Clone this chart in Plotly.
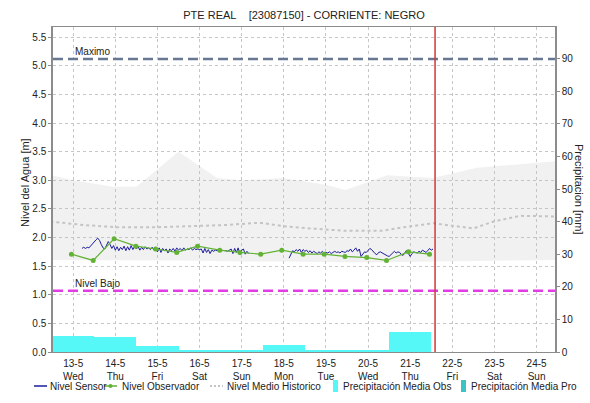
import pandas as pd
import plotly.graph_objects as go

# ---------------------------------------------------------------- data
title_text = "PTE REAL\u00a0\u00a0\u00a0 [23087150] - CORRIENTE: NEGRO"

tick_days = ["2020-05-13", "2020-05-14", "2020-05-15", "2020-05-16", "2020-05-17", "2020-05-18",
             "2020-05-19", "2020-05-20", "2020-05-21", "2020-05-22", "2020-05-23", "2020-05-24"]
tick_labels = ["13-5<br>Wed", "14-5<br>Thu", "15-5<br>Fri", "16-5<br>Sat", "17-5<br>Sun", "18-5<br>Mon",
               "19-5<br>Tue", "20-5<br>Wed", "21-5<br>Thu", "22-5<br>Fri", "23-5<br>Sat", "24-5<br>Sun"]

x_start = "2020-05-12 12:30"
x_end = "2020-05-24 10:30"
now_time = "2020-05-21 14:10"

nivel_maximo = 5.12
nivel_bajo = 1.07

# hourly sensor readings, two continuous stretches
sensor_start_1 = "2020-05-13 05:00"
sensor_vals_1 = [
    1.81, 1.83, 1.81, 1.83, 1.82, 1.86, 1.88, 1.92, 1.96, 1.99, 1.95, 1.88, 1.82, 1.80, 1.88, 1.93, 1.88, 1.81, 1.86, 1.78,
    1.84, 1.77, 1.83, 1.79, 1.85, 1.77, 1.84, 1.78, 1.86, 1.79, 1.85, 1.80, 1.84, 1.78, 1.83, 1.79, 1.84, 1.80, 1.82, 1.79, 1.83, 1.78, 1.82, 1.75,
    1.82, 1.74, 1.81, 1.77, 1.80, 1.73, 1.80, 1.77, 1.81, 1.76, 1.82, 1.78, 1.81, 1.77, 1.82, 1.78, 1.80, 1.79, 1.82, 1.78, 1.81, 1.79, 1.80, 1.79,
    1.80, 1.73, 1.81, 1.74, 1.79, 1.72, 1.78, 1.76, 1.78, 1.77, 1.78, 1.78, 1.77, 1.78, 1.77, 1.76, 1.78, 1.80, 1.72, 1.81, 1.74, 1.82, 1.70, 1.78,
    1.80, 1.71, 1.76, 1.72,
]
sensor_start_2 = "2020-05-18 03:00"
sensor_vals_2 = [
    1.64, 1.70, 1.77, 1.75, 1.79, 1.76, 1.80, 1.74, 1.79, 1.76, 1.78, 1.74, 1.77, 1.73, 1.76,
    1.74, 1.72, 1.75, 1.73, 1.76, 1.72, 1.74,
    1.73, 1.75, 1.72, 1.74, 1.76, 1.74, 1.75, 1.73, 1.76, 1.75, 1.74, 1.77, 1.76, 1.80, 1.75, 1.78, 1.82, 1.76, 1.80, 1.67, 1.72, 1.75, 1.74, 1.78,
    1.81, 1.79, 1.75, 1.72, 1.70, 1.74, 1.75, 1.73, 1.71, 1.69, 1.68, 1.67, 1.70, 1.74, 1.76, 1.73, 1.75, 1.74, 1.70, 1.69, 1.73, 1.78, 1.72, 1.67,
    1.72, 1.75, 1.74, 1.73, 1.76, 1.74, 1.78, 1.76, 1.74, 1.77, 1.81, 1.78, 1.80,
]

obs_times = ["2020-05-12 23:00", "2020-05-13 11:24", "2020-05-13 23:20", "2020-05-14 11:45", "2020-05-14 23:00",
             "2020-05-15 11:00", "2020-05-15 22:50", "2020-05-16 11:30", "2020-05-16 23:00", "2020-05-17 10:50",
             "2020-05-17 22:50", "2020-05-18 11:00", "2020-05-18 23:00", "2020-05-19 10:50", "2020-05-19 23:15",
             "2020-05-20 10:30", "2020-05-20 23:00", "2020-05-21 11:00"]
obs_vals = [1.71, 1.60, 1.98, 1.85, 1.80, 1.74, 1.85, 1.78, 1.74, 1.71,
            1.78, 1.71, 1.71, 1.67, 1.65, 1.60, 1.75, 1.71]

band_times = ["2020-05-12 11:00", "2020-05-13 00:00", "2020-05-13 23:00", "2020-05-14 12:00", "2020-05-15 12:00",
              "2020-05-16 10:00", "2020-05-17 00:00", "2020-05-17 23:30", "2020-05-19 00:30", "2020-05-19 11:00",
              "2020-05-20 11:00", "2020-05-21 00:00", "2020-05-21 13:00", "2020-05-22 14:00", "2020-05-24 08:00",
              "2020-05-24 13:00"]
band_max = [3.09, 3.00, 2.89, 2.89, 3.50, 3.04, 3.00, 3.04, 2.92, 2.83, 3.09, 3.06, 3.04, 3.22, 3.33, 3.34]
band_min = [1.61, 1.61, 1.60, 1.60, 1.60, 1.59, 1.58, 1.58, 1.57, 1.57, 1.57, 1.58, 1.58, 1.59, 1.60, 1.61]

mean_times = ["2020-05-12 11:00", "2020-05-13 05:45", "2020-05-14 00:45", "2020-05-14 23:30", "2020-05-15 19:30",
              "2020-05-16 15:20", "2020-05-17 10:20", "2020-05-17 23:45", "2020-05-18 15:00", "2020-05-19 10:00",
              "2020-05-20 08:40", "2020-05-20 20:10", "2020-05-21 13:10", "2020-05-22 00:45", "2020-05-22 12:00",
              "2020-05-22 23:30", "2020-05-23 14:40", "2020-05-24 07:40", "2020-05-24 13:00"]
mean_vals = [2.28, 2.22, 2.18, 2.18, 2.20, 2.22, 2.26, 2.20, 2.16, 2.12,
             2.12, 2.18, 2.25, 2.20, 2.16, 2.28, 2.38, 2.37, 2.37]

precip_days = ["2020-05-13", "2020-05-14", "2020-05-15", "2020-05-16", "2020-05-17",
               "2020-05-18", "2020-05-19", "2020-05-20", "2020-05-21"]
precip_obs = [5.0, 4.6, 1.85, 0.5, 0.5, 2.2, 0.7, 0.5, 6.1]
precip_pro_days = ["2020-05-22", "2020-05-23", "2020-05-24"]
precip_pro = [0.0, 0.0, 0.0]

# ---------------------------------------------------------------- styling
FONT = "Liberation Sans, Arial, sans-serif"
C_SENSOR = "#1c1c9c"
C_OBS = "#62b236"
C_MEAN = "#c4c4c4"
C_BAND = "rgba(190,190,190,0.22)"
C_OBS_BAR = "#55f7f7"
C_PRO_BAR = "#3cc4c4"
C_GRID = "#c6c6c6"
C_AXIS = "#8c8c8c"
C_TEXT = "#222"

W, H = 590, 403
ML, MR, MT, MB = 53, 35, 27, 51
PW, PH = W - ML - MR, H - MT - MB


def px_x(p):
    return (p - ML) / PW


def px_y(p):
    return (H - MB - p) / PH


DAY_MS = 86400000

sensor_x = (list(pd.date_range(sensor_start_1, periods=len(sensor_vals_1), freq="h"))
            + [None]
            + list(pd.date_range(sensor_start_2, periods=len(sensor_vals_2), freq="h")))
sensor_y = sensor_vals_1 + [None] + sensor_vals_2

fig = go.Figure()

# historical range band
fig.add_trace(go.Scatter(x=band_times, y=band_min, mode="lines", line=dict(width=0),
                         hoverinfo="skip", showlegend=False))
fig.add_trace(go.Scatter(x=band_times, y=band_max, mode="lines", line=dict(width=0),
                         fill="tonexty", fillcolor=C_BAND, hoverinfo="skip", showlegend=False))

# precipitation bars (right axis)
fig.add_trace(go.Bar(x=precip_days, y=precip_obs, width=DAY_MS, marker=dict(color=C_OBS_BAR, line=dict(width=0)),
                     name="Precipitación Media Obs", yaxis="y2", showlegend=False))
fig.add_trace(go.Bar(x=precip_pro_days, y=precip_pro, width=DAY_MS, marker=dict(color=C_PRO_BAR, line=dict(width=0)),
                     name="Precipitación Media Pro", yaxis="y2", showlegend=False))

# historical mean
fig.add_trace(go.Scatter(x=mean_times, y=mean_vals, mode="lines", name="Nivel Medio Historico",
                         line=dict(color=C_MEAN, width=2, dash="3px,3px"), showlegend=False))

# sensor + observer
fig.add_trace(go.Scatter(x=sensor_x, y=sensor_y, mode="lines", name="Nivel Sensor",
                         line=dict(color=C_SENSOR, width=1), connectgaps=False, showlegend=False))
fig.add_trace(go.Scatter(x=obs_times, y=obs_vals, mode="lines+markers", name="Nivel Observador",
                         line=dict(color=C_OBS, width=1.2), marker=dict(color=C_OBS, size=5),
                         showlegend=False))

shapes = [
    dict(type="line", xref="paper", x0=0, x1=1, yref="y", y0=nivel_maximo, y1=nivel_maximo,
         line=dict(color="#6a7793", width=2.5, dash="10px,5px"), layer="above"),
    dict(type="line", xref="paper", x0=0, x1=1, yref="y", y0=nivel_bajo, y1=nivel_bajo,
         line=dict(color="#e43ce4", width=2.5, dash="10px,5px"), layer="above"),
    dict(type="line", xref="x", x0=now_time, x1=now_time, yref="paper", y0=0, y1=1,
         line=dict(color="#d03838", width=1.5), layer="above"),
]

annotations = [
    dict(text="Maximo", x=tick_days[0], xref="x", y=nivel_maximo, yref="y", xanchor="left", yanchor="bottom",
         showarrow=False, font=dict(family=FONT, size=10, color=C_TEXT)),
    dict(text="Nivel Bajo", x=tick_days[0], xref="x", y=nivel_bajo, yref="y", xanchor="left", yanchor="bottom",
         showarrow=False, font=dict(family=FONT, size=10, color=C_TEXT)),
    dict(text="Nivel del Agua [m]", x=px_x(25), y=px_y(183), xref="paper", yref="paper", textangle=-90,
         showarrow=False, font=dict(family=FONT, size=11, color=C_TEXT), xanchor="center", yanchor="middle"),
    dict(text="Precipitacion [mm]", x=px_x(579), y=px_y(189), xref="paper", yref="paper", textangle=90,
         showarrow=False, font=dict(family=FONT, size=11, color=C_TEXT), xanchor="center", yanchor="middle"),
]

# legend row drawn below the plot
LEG_Y = 386
legend_entries = [
    ("Nivel Sensor", "line", C_SENSOR, 34, 48),
    ("Nivel Observador", "marker", C_OBS, 104, 120),
    ("Nivel Medio Historico", "dot", C_MEAN, 210, 225),
    ("Precipitación Media Obs", "box", C_OBS_BAR, 333, 341),
    ("Precipitación Media Pro", "box", C_PRO_BAR, 461, 469),
]
for name, kind, color, sx, tx in legend_entries:
    if kind in ("line", "marker", "dot"):
        shapes.append(dict(type="line", xref="paper", yref="paper", x0=px_x(sx), x1=px_x(sx + 13),
                           y0=px_y(LEG_Y), y1=px_y(LEG_Y),
                           line=dict(color=color, width=1.5 if kind != "dot" else 2,
                                     dash="solid" if kind != "dot" else "2px,2px")))
        if kind == "marker":
            shapes.append(dict(type="circle", xref="paper", yref="paper", x0=px_x(sx + 4.5), x1=px_x(sx + 8.5),
                               y0=px_y(LEG_Y + 2), y1=px_y(LEG_Y - 2), fillcolor=color, line=dict(width=0)))
    else:
        shapes.append(dict(type="rect", xref="paper", yref="paper", x0=px_x(sx), x1=px_x(sx + 5),
                           y0=px_y(LEG_Y + 6), y1=px_y(LEG_Y - 6), fillcolor=color, line=dict(width=0)))
    annotations.append(dict(text=name, x=px_x(tx), y=px_y(LEG_Y), xref="paper", yref="paper",
                            xanchor="left", yanchor="middle", showarrow=False,
                            font=dict(family=FONT, size=10, color=C_TEXT)))

fig.update_layout(
    width=W, height=H,
    margin=dict(l=ML, r=MR, t=MT, b=MB, pad=0),
    paper_bgcolor="white", plot_bgcolor="white",
    font=dict(family=FONT, size=10, color=C_TEXT),
    title=dict(text=title_text, x=0.5, xref="paper", xanchor="center", y=1 - 15 / H, yanchor="middle",
               font=dict(family=FONT, size=11, color=C_TEXT)),
    showlegend=False,
    bargap=0,
    barmode="overlay",
    shapes=shapes,
    annotations=annotations,
    xaxis=dict(type="date", range=[x_start, x_end], tickmode="array", tickvals=tick_days, ticktext=tick_labels,
               showgrid=True, gridcolor=C_GRID, griddash="dot", gridwidth=1,
               showline=True, linecolor=C_AXIS, linewidth=1, mirror=True, ticks="", zeroline=False,
               ticklabelstandoff=2,
               tickfont=dict(family=FONT, size=10, color=C_TEXT)),
    yaxis=dict(range=[0, 5.68], tickmode="array", tickvals=[i * 0.5 for i in range(12)], tickformat=".1f",
               showgrid=True, gridcolor=C_GRID, griddash="dot", gridwidth=1,
               showline=True, linecolor=C_AXIS, linewidth=1.5, ticks="outside", ticklen=3, tickcolor=C_AXIS,
               zeroline=False, tickfont=dict(family=FONT, size=10, color=C_TEXT)),
    yaxis2=dict(range=[0, 99.7], overlaying="y", side="right", tickmode="array",
                tickvals=list(range(0, 101, 10)), showgrid=False, zeroline=False,
                showline=True, linecolor=C_AXIS, linewidth=1.5, ticks="outside", ticklen=3, tickcolor=C_AXIS,
                tickfont=dict(family=FONT, size=10, color=C_TEXT)),
)

fig.write_html("out.html")
